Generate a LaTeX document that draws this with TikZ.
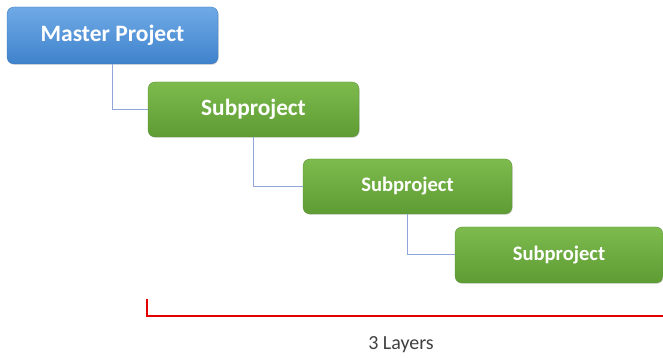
\documentclass[tikz,border=0pt]{standalone}
\usepackage{fontspec}
\setmainfont{Carlito}
\usetikzlibrary{shadows}
\definecolor{bluetop}{HTML}{6FAAE6}
\definecolor{bluebot}{HTML}{3F82CC}
\definecolor{greentop}{HTML}{7DBB4E}
\definecolor{greenbot}{HTML}{5E9C34}
\definecolor{linkcol}{HTML}{8FA6D8}
\definecolor{txtgray}{HTML}{404040}
\tikzset{
  boxbase/.style={rectangle, rounded corners=7pt, text=white, font=\bfseries,
     drop shadow={shadow xshift=0.8pt, shadow yshift=-1pt, opacity=0.25}},
  bluebox/.style={boxbase, top color=bluetop, bottom color=bluebot, draw=bluebot!90!black, line width=0.3pt},
  greenbox/.style={boxbase, top color=greentop, bottom color=greenbot, draw=greenbot!90!black, line width=0.3pt},
  link/.style={draw=linkcol, line width=1pt},
  bracket/.style={draw=red!90!black, line width=1.6pt}
}
\begin{document}
\begin{tikzpicture}[x=1pt,y=1pt]
\useasboundingbox (0,0) rectangle (663,358);
\node[bluebox, minimum width=211pt, minimum height=57pt, font=\bfseries\fontsize{23.5}{25}\selectfont] (master) at (112.5,322.5) {Master Project};
\node[greenbox, minimum width=211pt, minimum height=55pt, font=\bfseries\fontsize{23.3}{25}\selectfont] (sub1) at (253.5,248.5) {Subproject};
\node[greenbox, minimum width=209pt, minimum height=55pt, font=\bfseries\fontsize{20.6}{22}\selectfont] (sub2) at (407.5,171.5) {Subproject};
\node[greenbox, minimum width=208pt, minimum height=56pt, font=\bfseries\fontsize{20.6}{22}\selectfont] (sub3) at (559,103) {Subproject};
\draw[link] (master.south) |- (sub1.west);
\draw[link] (sub1.south) |- (sub2.west);
\draw[link] (sub2.south) |- (sub3.west);
\coordinate (bl) at (147,59);
\coordinate (bc) at (147,42);
\coordinate (br) at (663,42);
\draw[bracket] (bl) -- (bc) -- (br);
\node[text=txtgray, font=\fontsize{20}{22}\selectfont] (layers) at (401,13) {3 Layers};
\end{tikzpicture}
\end{document}
